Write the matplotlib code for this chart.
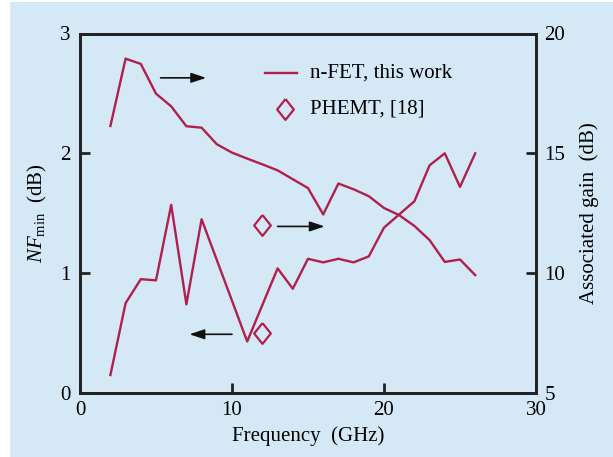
import matplotlib.pyplot as plt
from matplotlib.patches import Rectangle

# n-FET data
freq_nf = [2, 3, 4, 5, 6, 7, 8, 11, 13, 14, 15, 16, 17, 18, 19, 20, 21, 22, 23, 24, 25, 26]
nf_min = [0.15, 0.75, 0.95, 0.94, 1.57, 0.74, 1.45, 0.43, 1.04, 0.87, 1.12, 1.09, 1.12, 1.09,
          1.14, 1.38, 1.49, 1.60, 1.90, 2.00, 1.72, 2.00]

freq_gain = [2, 3, 4, 5, 6, 7, 8, 9, 10, 11, 12, 13, 14, 15, 16, 17, 18, 19, 20, 21, 22, 23, 24, 25, 26]
gain = [16.14, 18.95, 18.73, 17.49, 16.96, 16.13, 16.07, 15.38, 15.03, 14.78, 14.54, 14.29, 13.92,
        13.55, 12.45, 13.74, 13.50, 13.21, 12.72, 12.42, 11.97, 11.38, 10.47, 10.57, 9.92]

# PHEMT reference point
phemt_freq = 12
phemt_nf = 0.5
phemt_gain = 12.0

bg = '#d5e8f5'
red = '#b0204c'
fs = 15

plt.rcParams['font.family'] = ['Liberation Serif', 'DejaVu Serif']
plt.rcParams['mathtext.fontset'] = 'custom'
plt.rcParams['mathtext.rm'] = 'Liberation Serif'
plt.rcParams['mathtext.it'] = 'Liberation Serif:italic'

# slightly tall diamond, like the original
diamond = [(0, 1), (0.8, 0), (0, -1), (-0.8, 0), (0, 1)]
mk = dict(marker=diamond, ms=15, mfc='none', mec=red, mew=1.6, linestyle='none')

fig = plt.figure(figsize=(6.13, 4.57), dpi=100, facecolor='white')
fig.patches.append(Rectangle((10 / 613, 0), 1, 1 - 2 / 457, transform=fig.transFigure,
                             facecolor=bg, edgecolor='none', zorder=-1))

ax = fig.add_axes([80 / 613, 1 - 393 / 457, 456 / 613, 359.5 / 457])
ax.set_facecolor(bg)
ax2 = ax.twinx()

ax.plot(freq_nf, nf_min, color=red, lw=1.7)
ax.plot(phemt_freq, phemt_nf, **mk)
ax2.plot(freq_gain, gain, color=red, lw=1.7)
ax2.plot(phemt_freq, phemt_gain, **mk)

ax.set_xlim(0, 30)
ax.set_ylim(0, 3)
ax2.set_ylim(5, 20)
ax.set_xticks([0, 10, 20, 30])
ax.set_yticks([0, 1, 2, 3])
ax2.set_yticks([5, 10, 15, 20])

for a in (ax, ax2):
    for s in a.spines.values():
        s.set_linewidth(2.0)
        s.set_color('#222222')
    a.tick_params(direction='in', length=7, width=2.0, labelsize=fs, color='#222222')
ax.tick_params(axis='x', pad=6)
ax.tick_params(axis='y', pad=7)
ax2.tick_params(axis='y', pad=6)

ax.set_xlabel('Frequency  (GHz)', fontsize=fs, labelpad=4)
ax.set_ylabel(r'$\mathit{NF}_{\rm min}$  (dB)', fontsize=fs, labelpad=8)
ax2.set_ylabel('Associated gain  (dB)', fontsize=fs, labelpad=10)

# direction arrows
arrow = dict(arrowstyle='-|>,head_length=0.9,head_width=0.3', color='#111111', lw=1.2,
             shrinkA=0, shrinkB=0)
ax.annotate('', xy=(8.3, 2.63), xytext=(5.3, 2.63), arrowprops=arrow)
ax.annotate('', xy=(16.1, 1.39), xytext=(13.0, 1.39), arrowprops=arrow)
ax.annotate('', xy=(7.2, 0.49), xytext=(10.0, 0.49), arrowprops=arrow)

# legend drawn by hand
ax.plot([12.2, 14.3], [2.67, 2.67], color=red, lw=1.7)
ax.text(15.1, 2.67, 'n-FET, this work', fontsize=fs, va='center')
ax.plot(13.5, 2.37, **mk)
ax.text(15.1, 2.37, 'PHEMT, [18]', fontsize=fs, va='center')

fig.savefig('out.png', dpi=100, facecolor='white')
